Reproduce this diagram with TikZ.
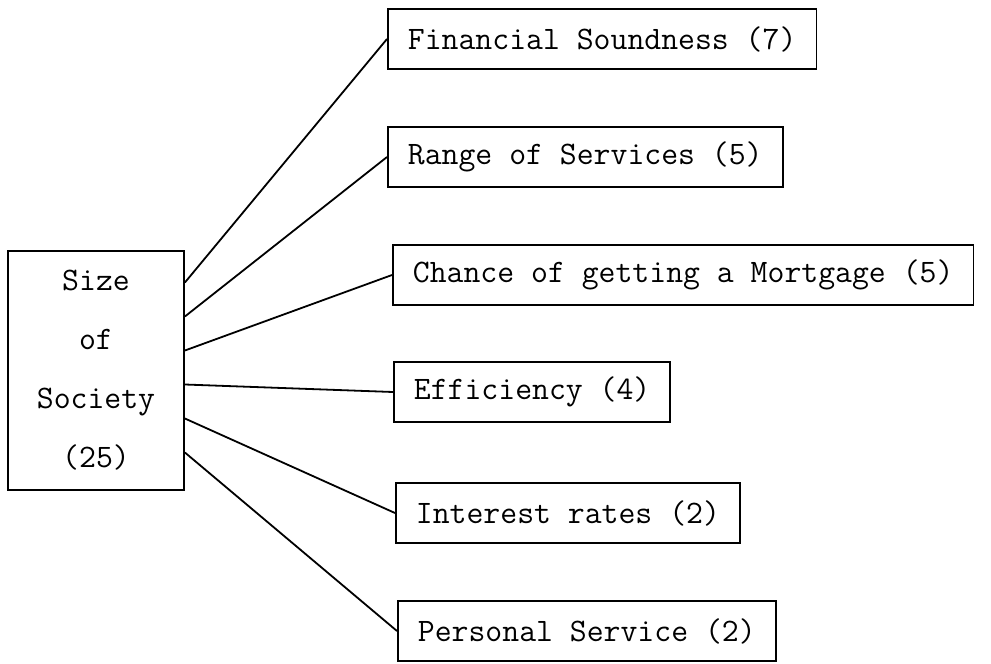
\documentclass[tikz,border=0pt]{standalone}
\usetikzlibrary{positioning}

\begin{document}
\begin{tikzpicture}[x=0.5pt, y=-0.5pt, line width=0.9pt,
    font=\ttfamily\fontsize{16.4}{29.5}\selectfont,
    factor/.style={draw, anchor=west, minimum height=30pt, inner xsep=10pt}]
  \useasboundingbox (0,0) rectangle (991,664);
  % Size box
  \node[draw, minimum width=88pt, minimum height=119.5pt, align=center]
    (size) at (96,370.5) {Size\\of\\Society\\(25)};
  % Factors
  \node[factor] (fin)  at (387,39)  {Financial Soundness (7)};
  \node[factor] (rng)  at (387,157) {Range of Services (5)};
  \node[factor] (mort) at (392,275) {Chance of getting a Mortgage (5)};
  \node[factor] (eff)  at (393,392) {Efficiency (4)};
  \node[factor] (rate) at (395,513) {Interest rates (2)};
  \node[factor] (pers) at (397,631) {Personal Service (2)};
  % Links
  \foreach \b/\dy in {fin/44, rng/27, mort/10, eff/-7, rate/-24, pers/-41}
    \draw ([yshift=\dy pt]size.east) -- (\b.west);
\end{tikzpicture}
\end{document}
